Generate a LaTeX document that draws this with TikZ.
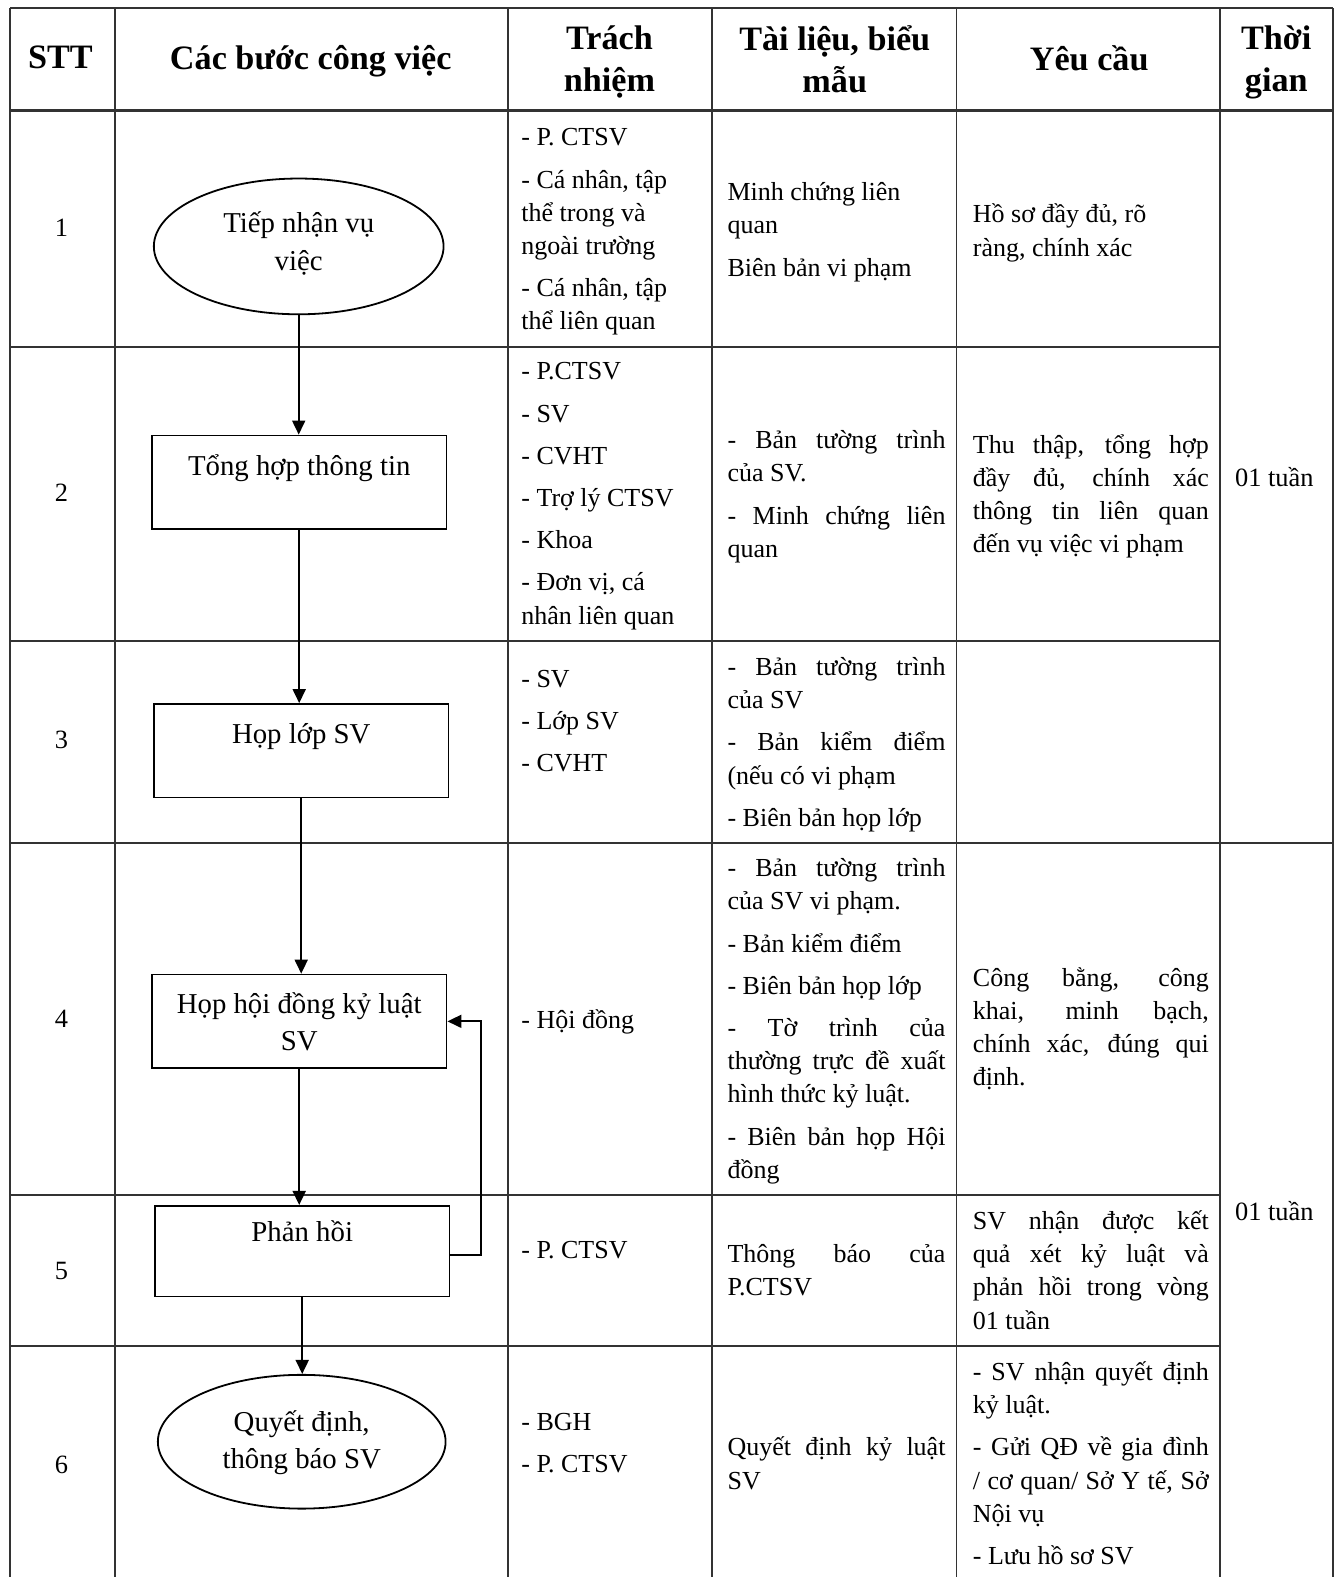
\documentclass[tikz,border=0pt]{standalone}
\usepackage{fontspec}
\setmainfont{Liberation Serif}
\usetikzlibrary{shapes.geometric,arrows.meta}
\hyphenpenalty=10000
\exhyphenpenalty=10000
\tolerance=10000
\hbadness=10000
\hfuzz=4pt

\begin{document}
\begin{tikzpicture}[x=0.503pt, y=-0.503pt,
        grid/.style={draw=black!80, line width=0.9pt},
        head/.style={font=\fontsize{17.1}{21.1}\selectfont\bfseries, align=center, inner sep=0pt, yshift=-1.5pt,
            execute at begin node=\strut, execute at end node=\strut},
        twolines/.style={yshift=-1.5pt},
        txt/.style={font=\fontsize{13.2}{16.6}\selectfont, inner sep=0pt, yshift=-1.5pt, execute at begin node=\strut},
        cell/.style={font=\fontsize{13}{16.6}\selectfont, inner sep=0pt, anchor=west, yshift=-1.5pt,
            execute at begin node={\setlength{\parskip}{4.5pt}\strut}, execute at end node=\strut},
        resp/.style={cell, text width=91pt, align=flush left},
        doc/.style={cell, text width=109pt, align=justify},
        req/.style={cell, text width=118pt, align=justify},
        term/.style={ellipse, draw, line width=0.9pt, inner sep=0pt, minimum width=144.9pt, minimum height=67.9pt,
            text width=90pt, align=flush center, font=\fontsize{14.4}{18.6}\selectfont},
        stepbox/.style={rectangle, draw, line width=0.9pt, inner sep=0pt, minimum width=147.4pt, minimum height=46.8pt,
            align=flush center, font=\fontsize{14.4}{18.6}\selectfont},
        flow/.style={draw, line width=0.9pt, -{Triangle[length=7pt,width=6.5pt]}}]
    \useasboundingbox (0,0) rectangle (1333,1568);

    % Table grid
    \foreach \x in {10,114,505,708,951,1213,1325}
        \draw[grid] (\x,8) -- (\x,1568);
    \draw[grid] (10,8) -- (1325,8);
    \draw[grid, line width=1.6pt] (10,110) -- (1325,110);
    \draw[grid] (10,345) -- (1213,345);
    \draw[grid] (10,637) -- (1213,637);
    \draw[grid] (10,838) -- (1325,838);
    \draw[grid] (10,1188) -- (1213,1188);
    \draw[grid] (10,1338) -- (1213,1338);

    % Header
    \node[head] (hstt) at (60,57) {STT};
    \node[head] (hstep) at (309,58) {Các bước công việc};
    \node[head, twolines] (hresp) at (606,59) {Trách\\ nhiệm};
    \node[head, twolines] (hdoc) at (830,59) {Tài liệu, biểu\\ mẫu};
    \node[head] (hreq) at (1083,59) {Yêu cầu};
    \node[head, twolines] (htime) at (1269,59) {Thời\\ gian};

    % Step numbers
    \node[txt] (n1) at (61,226) {1};
    \node[txt] (n2) at (61,489) {2};
    \node[txt] (n3) at (61,735) {3};
    \node[txt] (n4) at (61,1012) {4};
    \node[txt] (n5) at (61,1263) {5};
    \node[txt] (n6) at (61,1455) {6};

    % Flow chart
    \node[term, text height=10pt, text depth=23.5pt] (f1) at (297,245) {Tiếp nhận vụ\\ việc};
    \node[stepbox, text height=19.9pt, text depth=26.9pt] (f2) at (297.5,479.5) {Tổng hợp thông tin};
    \node[stepbox, text height=19.9pt, text depth=26.9pt] (f3) at (299.5,746.5) {Họp lớp SV};
    \node[stepbox, text width=147.4pt, text height=19.4pt, text depth=27.4pt] (f4) at (297.5,1015.5) {Họp hội đồng kỷ luật\\ SV};
    \node[stepbox, minimum height=45.3pt, text height=17.8pt, text depth=27.4pt] (f5) at (300.5,1244) {Phản hồi};
    \node[term, minimum width=143.9pt, minimum height=66.9pt, text height=10pt, text depth=20pt] (f6) at (300,1433.5) {Quyết định,\\ thông báo SV};

    \draw[flow] (f1.south) -- (f1.south |- f2.north);
    \draw[flow] (f2.south) -- (f2.south |- f3.north);
    \draw[flow] (f3.south) -- (f3.south |- f4.north);
    \draw[flow] (f4.south) -- (f4.south |- f5.north);
    \draw[flow] (f5.south) -- (f5.south |- f6.north);
    \draw[flow] ([yshift=-2pt]f5.east) -- ++(30,0) |- (f4.east);

    % Row 1
    \node[resp] (r1) at (518,227) {- P. CTSV\par - Cá nhân, tập\\ thể trong và\\ ngoài trường\par - Cá nhân, tập\\ thể liên quan};
    \node[doc, align=flush left] (d1) at (723,227.5) {Minh chứng liên\\ quan\par Biên bản vi phạm};
    \node[req, align=flush left] (q1) at (967,228.5) {Hồ sơ đầy đủ, rõ\\ ràng, chính xác};

    % Row 2
    \node[resp] (r2) at (518,489.5) {- P.CTSV\par - SV\par - CVHT\par - Trợ lý CTSV\par - Khoa\par - Đơn vị, cá\\ nhân liên quan};
    \node[doc] (d2) at (723,490.5) {- Bản tường trình\linebreak của SV.\par - Minh chứng liên\linebreak quan};
    \node[req] (q2) at (967,490.5) {Thu thập, tổng hợp\linebreak đầy đủ, chính xác\linebreak thông tin liên quan\linebreak đến vụ việc vi phạm};
    \node[txt] (tm1) at (1267,474) {01 tuần};

    % Row 3
    \node[resp] (r3) at (518,715.5) {- SV\par - Lớp SV\par - CVHT};
    \node[doc] (d3) at (723,737) {- Bản tường trình\linebreak của SV\par - Bản kiểm điểm\linebreak (nếu có vi phạm\par - Biên bản họp lớp};

    % Row 4
    \node[resp] (r4) at (518,1013) {- Hội đồng};
    \node[doc] (d4) at (723,1012) {- Bản tường trình\linebreak của SV vi phạm.\par - Bản kiểm điểm\par - Biên bản họp lớp\par - Tờ trình của\linebreak thường trực đề xuất\linebreak hình thức kỷ luật.\par - Biên bản họp Hội\linebreak đồng};
    \node[req] (q4) at (967,1020.5) {Công bằng, công\linebreak khai, minh bạch,\linebreak chính xác, đúng qui\linebreak định.};

    % Row 5
    \node[resp] (r5) at (518,1242) {- P. CTSV};
    \node[doc] (d5) at (723,1262.5) {Thông báo của\linebreak P.CTSV};
    \node[req] (q5) at (967,1262.5) {SV nhận được kết\linebreak quả xét kỷ luật và\linebreak phản hồi trong vòng\linebreak 01 tuần};
    \node[txt] (tm2) at (1267,1204) {01 tuần};

    % Row 6
    \node[resp] (r6) at (518,1434) {- BGH\par - P. CTSV};
    \node[doc] (d6) at (723,1454.5) {Quyết định kỷ luật\linebreak SV};
    \node[req] (q6) at (967,1454.5) {- SV nhận quyết định\linebreak kỷ luật.\par - Gửi QĐ về gia đình\linebreak / cơ quan/ Sở Y tế, Sở\linebreak Nội vụ\par - Lưu hồ sơ SV};
\end{tikzpicture}
\end{document}
